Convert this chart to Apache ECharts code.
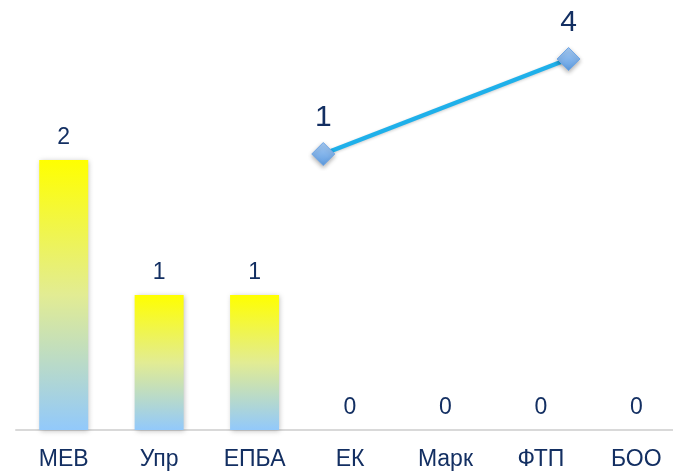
<!DOCTYPE html>
<html>
<head>
<meta charset="utf-8">
<script src="https://cdn.jsdelivr.net/npm/echarts@6/dist/echarts.min.js"></script>
<style>
html,body{margin:0;padding:0;background:#fff;overflow:hidden;width:673px;height:473px;}
#chart{width:684px;height:473px;}
</style>
</head>
<body>
<div id="chart"></div>
<script>
var categories = ['МЕВ', 'Упр', 'ЕПБА', 'ЕК', 'Марк', 'ФТП', 'БОО'];
var barValues = [2, 1, 1, 0, 0, 0, 0];
var lineX = [3.22, 5.79];
var lineValues = [1, 4];

var textColor = '#132f62';
var font = 'Liberation Sans, Arial, sans-serif';

var chart = echarts.init(document.getElementById('chart'));
chart.setOption({
  animation: false,
  backgroundColor: '#ffffff',
  grid: { left: 16, right: 0, top: 25, bottom: 43, containLabel: false },
  xAxis: [
    {
      type: 'category',
      data: categories,
      axisLine: { show: true, lineStyle: { color: '#d9d9d9', width: 2 } },
      axisTick: { show: false },
      axisLabel: { color: textColor, fontSize: 23, fontFamily: font, margin: 18 }
    },
    {
      type: 'value', min: 0, max: 7, show: false
    }
  ],
  yAxis: [
    { type: 'value', min: 0, max: 3, show: false, splitLine: { show: false } },
    { type: 'value', min: -7.716, max: 5.074, show: false, splitLine: { show: false } }
  ],
  series: [
    {
      type: 'bar',
      data: barValues,
      barWidth: 49,
      itemStyle: {
        color: new echarts.graphic.LinearGradient(0, 0, 0, 1, [
          { offset: 0, color: '#ffff00' },
          { offset: 0.5, color: '#e2ec93' },
          { offset: 1, color: '#92c9fb' }
        ]),
        shadowColor: 'rgba(0,0,0,0.25)',
        shadowBlur: 5,
        shadowOffsetX: 1,
        shadowOffsetY: 1
      },
      label: {
        show: true,
        position: 'top',
        distance: 11,
        color: textColor,
        fontSize: 23,
        fontFamily: font
      }
    },
    {
      type: 'line',
      xAxisIndex: 1,
      yAxisIndex: 1,
      data: lineX.map(function (x, i) { return [x, lineValues[i]]; }),
      symbol: 'diamond',
      symbolSize: 23,
      lineStyle: { color: '#1fb0ea', width: 4.5, shadowColor: 'rgba(0,0,0,0.2)', shadowBlur: 3, shadowOffsetY: 1 },
      itemStyle: {
        color: new echarts.graphic.LinearGradient(0, 0, 0, 1, [
          { offset: 0, color: '#a9cdf5' },
          { offset: 1, color: '#5d9be0' }
        ]),
        borderColor: '#6fa6e6',
        borderWidth: 1,
        shadowColor: 'rgba(0,0,0,0.3)',
        shadowBlur: 4,
        shadowOffsetY: 2
      },
      label: {
        show: true,
        position: 'top',
        distance: 9,
        color: textColor,
        fontSize: 30,
        fontFamily: font,
        formatter: function (p) { return p.value[1]; }
      },
      z: 5
    }
  ]
});
</script>
</body>
</html>
